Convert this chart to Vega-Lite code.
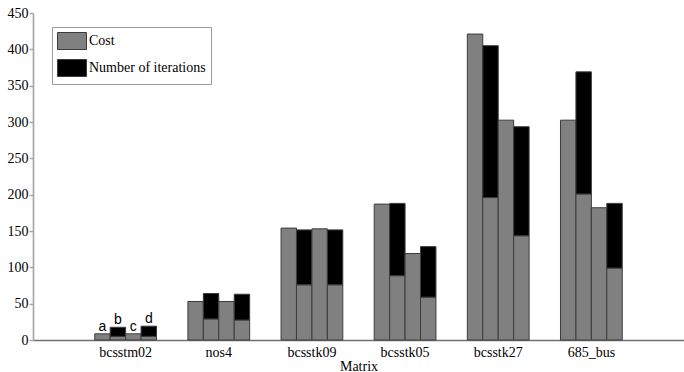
{
  "$schema": "https://vega.github.io/schema/vega-lite/v6.json",
  "width": 651,
  "height": 327,
  "autosize": "none",
  "padding": {"left": 33, "top": 13, "right": 0, "bottom": 32},
  "background": "white",
  "config": {"view": {"stroke": null}},
  "data": {"values": [
    {"matrix": "bcsstm02", "variant": "a", "measure": "Cost", "value": 8.5},
    {"matrix": "bcsstm02", "variant": "b", "measure": "Cost", "value": 5},
    {"matrix": "bcsstm02", "variant": "b", "measure": "Number of iterations", "value": 12.5},
    {"matrix": "bcsstm02", "variant": "c", "measure": "Cost", "value": 8.5},
    {"matrix": "bcsstm02", "variant": "d", "measure": "Cost", "value": 5},
    {"matrix": "bcsstm02", "variant": "d", "measure": "Number of iterations", "value": 14},
    {"matrix": "nos4", "variant": "a", "measure": "Cost", "value": 53},
    {"matrix": "nos4", "variant": "b", "measure": "Cost", "value": 29},
    {"matrix": "nos4", "variant": "b", "measure": "Number of iterations", "value": 35},
    {"matrix": "nos4", "variant": "c", "measure": "Cost", "value": 53},
    {"matrix": "nos4", "variant": "d", "measure": "Cost", "value": 27.5},
    {"matrix": "nos4", "variant": "d", "measure": "Number of iterations", "value": 35.5},
    {"matrix": "bcsstk09", "variant": "a", "measure": "Cost", "value": 154},
    {"matrix": "bcsstk09", "variant": "b", "measure": "Cost", "value": 76},
    {"matrix": "bcsstk09", "variant": "b", "measure": "Number of iterations", "value": 75.5},
    {"matrix": "bcsstk09", "variant": "c", "measure": "Cost", "value": 153},
    {"matrix": "bcsstk09", "variant": "d", "measure": "Cost", "value": 76},
    {"matrix": "bcsstk09", "variant": "d", "measure": "Number of iterations", "value": 75.5},
    {"matrix": "bcsstk05", "variant": "a", "measure": "Cost", "value": 187},
    {"matrix": "bcsstk05", "variant": "b", "measure": "Cost", "value": 88.5},
    {"matrix": "bcsstk05", "variant": "b", "measure": "Number of iterations", "value": 99.5},
    {"matrix": "bcsstk05", "variant": "c", "measure": "Cost", "value": 119},
    {"matrix": "bcsstk05", "variant": "d", "measure": "Cost", "value": 59},
    {"matrix": "bcsstk05", "variant": "d", "measure": "Number of iterations", "value": 69.5},
    {"matrix": "bcsstk27", "variant": "a", "measure": "Cost", "value": 421},
    {"matrix": "bcsstk27", "variant": "b", "measure": "Cost", "value": 196},
    {"matrix": "bcsstk27", "variant": "b", "measure": "Number of iterations", "value": 209},
    {"matrix": "bcsstk27", "variant": "c", "measure": "Cost", "value": 302.5},
    {"matrix": "bcsstk27", "variant": "d", "measure": "Cost", "value": 143.5},
    {"matrix": "bcsstk27", "variant": "d", "measure": "Number of iterations", "value": 150},
    {"matrix": "685_bus", "variant": "a", "measure": "Cost", "value": 302.5},
    {"matrix": "685_bus", "variant": "b", "measure": "Cost", "value": 201},
    {"matrix": "685_bus", "variant": "b", "measure": "Number of iterations", "value": 168},
    {"matrix": "685_bus", "variant": "c", "measure": "Cost", "value": 182},
    {"matrix": "685_bus", "variant": "d", "measure": "Cost", "value": 99},
    {"matrix": "685_bus", "variant": "d", "measure": "Number of iterations", "value": 89}
  ]},
  "encoding": {
    "x": {
      "field": "matrix", "type": "nominal",
      "sort": ["bcsstm02", "nos4", "bcsstk09", "bcsstk05", "bcsstk27", "685_bus"],
      "scale": {"paddingInner": 0.337, "paddingOuter": 0.663},
      "axis": {
        "title": "Matrix", "titleFont": "Liberation Serif", "titleFontSize": 14, "titleFontWeight": "normal", "titleColor": "black", "titlePadding": 0,
        "labelFont": "Liberation Serif", "labelFontSize": 14, "labelColor": "black", "labelAngle": 0, "labelPadding": 5,
        "ticks": false, "domainColor": "#707070", "domainWidth": 1.5, "grid": false
      }
    },
    "xOffset": {"field": "variant", "type": "nominal", "sort": ["a", "b", "c", "d"], "scale": {"paddingInner": 0, "paddingOuter": 0}}
  },
  "layer": [
    {
      "mark": {"type": "bar", "stroke": "#3c3c3c", "strokeWidth": 1},
      "encoding": {
        "y": {
          "field": "value", "type": "quantitative", "stack": "zero",
          "scale": {"domain": [0, 450], "nice": false},
          "axis": {
            "title": null, "values": [0, 50, 100, 150, 200, 250, 300, 350, 400, 450], "labelOverlap": false,
            "labelFont": "Liberation Serif", "labelFontSize": 14, "labelColor": "black", "labelPadding": 1,
            "tickColor": "#a8a8a8", "tickSize": 4, "tickWidth": 1.5,
            "domainColor": "#a8a8a8", "domainWidth": 1.7, "grid": false
          }
        },
        "color": {
          "field": "measure", "type": "nominal",
          "scale": {"domain": ["Cost", "Number of iterations"], "range": ["#808080", "#000000"]},
          "legend": {
            "title": null, "orient": "none", "legendX": 19, "legendY": 14,
            "symbolType": "M-1.706,-1L1.706,-1L1.706,1L-1.706,1Z", "symbolSize": 289,
            "symbolStrokeColor": "#3c3c3c", "symbolStrokeWidth": 1, "symbolOpacity": 1,
            "symbolOffset": 6, "labelOffset": 8,
            "labelFont": "Liberation Serif", "labelFontSize": 14, "labelColor": "black", "labelLimit": 300,
            "padding": 5, "rowPadding": 5, "strokeColor": "#999999", "fillColor": "white"
          }
        },
        "order": {"field": "measure", "type": "nominal", "sort": "ascending"}
      }
    },
    {
      "transform": [{"filter": "datum.matrix === 'bcsstm02'"}],
      "mark": {"type": "text", "font": "Liberation Sans", "fontSize": 14, "baseline": "alphabetic", "dy": -3, "color": "black"},
      "encoding": {
        "y": {
          "aggregate": "sum", "field": "value", "type": "quantitative",
          "axis": {
            "title": null, "values": [0, 50, 100, 150, 200, 250, 300, 350, 400, 450], "labelOverlap": false,
            "labelFont": "Liberation Serif", "labelFontSize": 14, "labelColor": "black", "labelPadding": 1,
            "tickColor": "#a8a8a8", "tickSize": 4, "tickWidth": 1.5,
            "domainColor": "#a8a8a8", "domainWidth": 1.7, "grid": false
          }
        },
        "text": {"field": "variant", "type": "nominal"}
      }
    }
  ]
}
